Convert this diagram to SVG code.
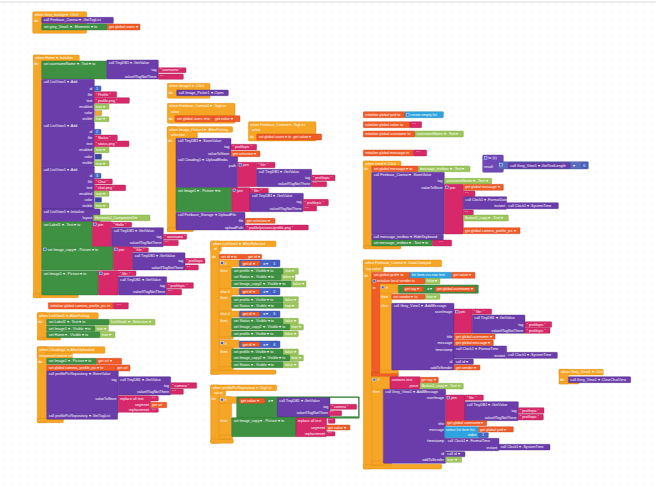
<svg xmlns="http://www.w3.org/2000/svg" width="656" height="487" viewBox="0 0 656 487">
<defs>
<pattern id="dots" width="8" height="8" patternUnits="userSpaceOnUse"><circle cx="4" cy="4" r="0.45" fill="#cfcfcf"/></pattern>
<style>
.e{fill:#F7A525;stroke:#D98A12}
.p{fill:#6A3DAA;stroke:#4E2A86}
.g{fill:#3E9143;stroke:#2C6E30}
.k{fill:#D7286A;stroke:#A81C50}
.r{fill:#F15B28;stroke:#C4441A}
.l{fill:#9DC75E;stroke:#7BA43E}
.b{fill:#2DA4E0;stroke:#1D80B4}
.n{fill:#4666C8;stroke:#32489A}
.v{fill:#7048B6;stroke:#52318C}
.c{fill:#5C6CBD;stroke:#43509A}
.w{fill:#ffffff;stroke:#2C6E30}
.s1{fill:#F7A525;stroke:#888}
.s2{fill:#3949AB;stroke:#888}
.gear{fill:#3B64D8;stroke:#fff}
rect{stroke-width:1.2}
text{font-family:"Liberation Sans",Arial,sans-serif;font-size:11px;fill:#fff}
.m{text-anchor:end}
</style>
</defs>
<rect width="656" height="487" fill="#ffffff"/>
<rect width="656" height="487" fill="url(#dots)"/>
<line x1="0" y1="2" x2="656" y2="2" stroke="#dddddd" stroke-width="1"/>
<g transform="scale(0.333333)">

<g id="grey-backgr-click">
<rect class="e" x="98" y="35" width="162" height="65" rx="3"/>
<text x="104" y="47">when Grey_backgr ▾ .Click</text><text x="103" y="65">do</text>
<rect class="p" x="125" y="52" width="215" height="18" rx="2"/><text x="131" y="64">call Firebase_Contrat ▾ .GetTagList</text>
<rect class="g" x="125" y="72" width="197" height="18" rx="2"/><text x="131" y="84">set grey_View1 ▾ . Elements ▾ to</text>
<rect class="r" x="322" y="72" width="98" height="18" rx="2"/><text x="327" y="84">get global users ▾</text>
</g>

<g id="home-initialize">
<rect class="e" x="100" y="165" width="138" height="18" rx="3"/>
<rect class="e" x="100" y="165" width="25" height="728" rx="3"/>
<rect class="e" x="100" y="880" width="135" height="13" rx="3"/>
<text x="106" y="177">when Home ▾ .Initialize</text><text x="103" y="196">do</text>
<rect class="g" x="125" y="183" width="195" height="54" rx="2"/><text x="131" y="195">set usernameName ▾ . Text ▾ to</text>
<rect class="p" x="320" y="180" width="155" height="57" rx="2"/><text x="326" y="192">call TinyDB1 ▾ .GetValue</text>
<text class="m" x="470" y="214">tag</text><text class="m" x="470" y="233">valueIfTagNotThere</text>
<rect class="k" x="475" y="203" width="83" height="15" rx="2"/><text x="480" y="214">“ username ”</text>
<rect class="k" x="475" y="222" width="75" height="16" rx="2"/><text x="480" y="234">“ ”</text>

<rect class="p" x="125" y="238" width="158" height="130" rx="2"/><text x="131" y="250">call ListView1 ▾ .Add</text>
<text class="m" x="277" y="270">id</text><text class="m" x="277" y="287">file</text><text class="m" x="277" y="305">text</text><text class="m" x="277" y="324">enabled</text><text class="m" x="277" y="343">color</text><text class="m" x="277" y="361">visible</text>
<rect class="n" x="282" y="258" width="21" height="15" rx="2"/><text x="288" y="270">1</text>
<rect class="k" x="282" y="275" width="68" height="17" rx="2"/><text x="287" y="287">“ Profile ”</text>
<rect class="k" x="282" y="293" width="106" height="17" rx="2"/><text x="287" y="305">“ profile.png ”</text>
<rect class="l" x="282" y="312" width="45" height="16" rx="2"/><text x="287" y="324">true ▾</text>
<rect class="s1" x="285" y="332" width="20" height="15"/>
<rect class="l" x="282" y="350" width="45" height="15" rx="2"/><text x="287" y="361">true ▾</text>

<rect class="p" x="125" y="368" width="158" height="132" rx="2"/><text x="131" y="380">call ListView1 ▾ .Add</text>
<text class="m" x="277" y="400">id</text><text class="m" x="277" y="417">file</text><text class="m" x="277" y="435">text</text><text class="m" x="277" y="453">enabled</text><text class="m" x="277" y="473">color</text><text class="m" x="277" y="493">visible</text>
<rect class="n" x="282" y="388" width="21" height="15" rx="2"/><text x="288" y="400">2</text>
<rect class="k" x="282" y="405" width="70" height="17" rx="2"/><text x="287" y="417">“ Status ”</text>
<rect class="k" x="282" y="423" width="105" height="17" rx="2"/><text x="287" y="435">“ status.png ”</text>
<rect class="l" x="282" y="442" width="45" height="16" rx="2"/><text x="287" y="454">true ▾</text>
<rect class="s2" x="285" y="462" width="20" height="16"/>
<rect class="l" x="282" y="482" width="45" height="16" rx="2"/><text x="287" y="494">true ▾</text>

<rect class="p" x="125" y="500" width="158" height="127" rx="2"/><text x="131" y="512">call ListView1 ▾ .Add</text>
<text class="m" x="277" y="532">id</text><text class="m" x="277" y="548">file</text><text class="m" x="277" y="567">text</text><text class="m" x="277" y="585">enabled</text><text class="m" x="277" y="604">color</text><text class="m" x="277" y="621">visible</text>
<rect class="n" x="282" y="520" width="21" height="15" rx="2"/><text x="288" y="532">3</text>
<rect class="k" x="282" y="537" width="55" height="15" rx="2"/><text x="287" y="548">“ Chat ”</text>
<rect class="k" x="282" y="555" width="95" height="17" rx="2"/><text x="287" y="567">“ chat.png ”</text>
<rect class="l" x="282" y="573" width="45" height="16" rx="2"/><text x="287" y="585">true ▾</text>
<rect class="s2" x="285" y="592" width="20" height="15"/>
<rect class="l" x="282" y="609" width="45" height="15" rx="2"/><text x="287" y="621">true ▾</text>

<rect class="p" x="125" y="627" width="175" height="38" rx="2"/><text x="131" y="639">call ListView1 ▾ .Initialize</text>
<text class="m" x="277" y="657">layout</text>
<rect class="l" x="280" y="645" width="170" height="17" rx="2"/><text x="285" y="657">Horizontal_Component3 ▾</text>

<rect class="g" x="125" y="665" width="152" height="75" rx="2"/><text x="131" y="677">set Label1 ▾ . Text ▾ to</text>
<rect class="k" x="277" y="665" width="58" height="75" rx="2"/><rect class="gear" x="281" y="669" width="8" height="8"/><text x="293" y="677">join</text>
<rect class="k" x="335" y="667" width="60" height="14" rx="2"/><text x="340" y="678">“ Hello ”</text>
<rect class="p" x="335" y="683" width="155" height="57" rx="2"/><text x="341" y="695">call TinyDB1 ▾ .GetValue</text>
<text class="m" x="485" y="715">tag</text><text class="m" x="485" y="733">valueIfTagNotThere</text>
<rect class="k" x="490" y="703" width="70" height="15" rx="2"/><text x="494" y="714">“ username ”</text>
<rect class="k" x="490" y="721" width="45" height="16" rx="2"/><text x="495" y="733">“ ”</text>

<rect class="g" x="125" y="740" width="215" height="70" rx="2"/><rect class="gear" x="131" y="744" width="8" height="8"/><text x="143" y="752">set Image_copy ▾ . Picture ▾ to</text>
<rect class="k" x="340" y="740" width="58" height="70" rx="2"/><rect class="gear" x="344" y="744" width="8" height="8"/><text x="356" y="752">join</text>
<rect class="k" x="398" y="743" width="47" height="13" rx="2"/><text x="403" y="753">“ file: ”</text>
<rect class="p" x="398" y="758" width="157" height="52" rx="2"/><text x="404" y="770">call TinyDB1 ▾ .GetValue</text>
<text class="m" x="550" y="787">tag</text><text class="m" x="550" y="806">valueIfTagNotThere</text>
<rect class="k" x="555" y="775" width="60" height="15" rx="2"/><text x="559" y="786">“ profilepic ”</text>
<rect class="k" x="555" y="795" width="40" height="15" rx="2"/><text x="560" y="806">“ ”</text>

<rect class="g" x="125" y="812" width="170" height="73" rx="2"/><text x="131" y="824">set Image1 ▾ . Picture ▾ to</text>
<rect class="k" x="295" y="812" width="60" height="73" rx="2"/><rect class="gear" x="299" y="816" width="8" height="8"/><text x="311" y="824">join</text>
<rect class="k" x="355" y="813" width="53" height="14" rx="2"/><text x="360" y="824">“ file: ”</text>
<rect class="p" x="355" y="830" width="145" height="55" rx="2"/><text x="361" y="842">call TinyDB1 ▾ .GetValue</text>
<text class="m" x="495" y="860">tag</text><text class="m" x="495" y="879">valueIfTagNotThere</text>
<rect class="k" x="500" y="848" width="80" height="17" rx="2"/><text x="505" y="860">“ profilepic ”</text>
<rect class="k" x="500" y="868" width="45" height="17" rx="2"/><text x="505" y="880">“ ”</text>
</g>

<g id="init-camera-profile-pic">
<rect class="r" x="145" y="908" width="195" height="19" rx="2"/><text x="151" y="921">initialize global camera_profile_pic to</text>
<rect class="k" x="340" y="908" width="45" height="19" rx="2"/><text x="352" y="921">“ ”</text>
</g>

<g id="listview-afterpicking">
<rect class="e" x="112" y="938" width="183" height="18" rx="3"/>
<rect class="e" x="112" y="938" width="28" height="82" rx="3"/>
<rect class="e" x="112" y="1012" width="70" height="8" rx="3"/>
<text x="118" y="950">when ListView1 ▾ .AfterPicking</text><text x="115" y="970">do</text>
<rect class="g" x="140" y="958" width="188" height="17" rx="2"/><text x="146" y="970">set Label2 ▾ . Text ▾ to</text>
<rect class="l" x="328" y="958" width="137" height="17" rx="2"/><text x="333" y="970">ListView1 ▾ . Selection ▾</text>
<rect class="g" x="140" y="977" width="145" height="17" rx="2"/><text x="146" y="989">set Image1 ▾ . Visible ▾ to</text>
<rect class="l" x="285" y="977" width="40" height="17" rx="2"/><text x="290" y="989">true ▾</text>
<rect class="g" x="140" y="995" width="160" height="18" rx="2"/><text x="146" y="1007">set Home ▾ . Visible ▾ to</text>
<rect class="l" x="300" y="995" width="45" height="18" rx="2"/><text x="305" y="1007">true ▾</text>
</g>

<g id="clouding-afteruploaded">
<rect class="e" x="112" y="1040" width="203" height="20" rx="3"/>
<rect class="e" x="112" y="1058" width="105" height="17" rx="2"/>
<rect class="e" x="112" y="1040" width="28" height="228" rx="3"/>
<rect class="e" x="112" y="1255" width="78" height="13" rx="3"/>
<text x="118" y="1053">when Clouding1 ▾ .AfterUploaded</text><text x="118" y="1071">responseContent  url</text><text x="115" y="1088">do</text>
<rect class="g" x="140" y="1075" width="150" height="18" rx="2"/><text x="146" y="1087">set Image1 ▾ . Picture ▾ to</text>
<rect class="r" x="290" y="1075" width="75" height="18" rx="2"/><text x="295" y="1087">get url ▾</text>
<rect class="r" x="140" y="1095" width="208" height="18" rx="2"/><text x="146" y="1107">set global camera_profile_pic ▾ to</text>
<rect class="r" x="348" y="1095" width="42" height="18" rx="2"/><text x="352" y="1107">get url</text>
<rect class="p" x="140" y="1113" width="215" height="127" rx="2"/><text x="146" y="1125">call profilePicRepository ▾ .StoreValue</text>
<text class="m" x="350" y="1143">tag</text><text class="m" x="350" y="1200">valueToStore</text>
<rect class="p" x="355" y="1130" width="157" height="55" rx="2"/><text x="361" y="1142">call TinyDB1 ▾ .GetValue</text>
<text class="m" x="507" y="1160">tag</text><text class="m" x="507" y="1179">valueIfTagNotThere</text>
<rect class="k" x="512" y="1148" width="78" height="17" rx="2"/><text x="517" y="1160">“ camera ”</text>
<rect class="k" x="512" y="1167" width="38" height="16" rx="2"/><text x="517" y="1179">“ ”</text>
<rect class="k" x="355" y="1187" width="97" height="50" rx="2"/><text x="360" y="1199">replace all text</text>
<text class="m" x="447" y="1219">segment</text><text class="m" x="447" y="1234">replacement</text>
<rect class="k" x="452" y="1188" width="23" height="15" rx="2"/><text x="456" y="1199">“ ”</text>
<rect class="r" x="452" y="1207" width="48" height="16" rx="2"/><text x="456" y="1219">get url</text>
<rect class="k" x="452" y="1225" width="23" height="12" rx="2"/><text x="456" y="1235">“ ”</text>
<rect class="p" x="140" y="1240" width="213" height="18" rx="2"/><text x="146" y="1252">call profilePicRepository ▾ .GetTagList</text>
</g>

<g id="image1-click">
<rect class="e" x="502" y="250" width="128" height="45" rx="3"/>
<text x="508" y="262">when Image1 ▾ .Click</text><text x="506" y="282">do</text>
<rect class="p" x="530" y="270" width="155" height="17" rx="2"/><text x="536" y="282">call Image_Picker1 ▾ .Open</text>
</g>

<g id="firebase-contrat2-taglist">
<rect class="e" x="502" y="310" width="203" height="60" rx="3"/>
<text x="508" y="322">when Firebase_Contrat2 ▾ .TagList</text><text x="512" y="339">value</text><text x="506" y="360">do</text>
<rect class="r" x="525" y="347" width="115" height="18" rx="2"/><text x="531" y="359">set global users ▾ to</text>
<rect class="r" x="640" y="347" width="80" height="18" rx="2"/><text x="645" y="359">get value ▾</text>
</g>

<g id="firebase-contrat-taglist">
<rect class="e" x="745" y="365" width="203" height="58" rx="3"/>
<text x="751" y="377">when Firebase_Contrat ▾ .TagList</text><text x="755" y="393">value</text><text x="749" y="415">do</text>
<rect class="r" x="770" y="402" width="105" height="18" rx="2"/><text x="776" y="414">set global users ▾ to</text>
<rect class="r" x="875" y="402" width="90" height="18" rx="2"/><text x="880" y="414">get value ▾</text>
</g>

<g id="image-picker-afterpicking">
<rect class="e" x="502" y="380" width="196" height="17" rx="3"/>
<rect class="e" x="502" y="396" width="90" height="18" rx="2"/>
<rect class="e" x="502" y="380" width="26" height="315" rx="3"/>
<rect class="e" x="502" y="683" width="78" height="12" rx="3"/>
<text x="508" y="392">when Image_Picker1 ▾ .AfterPicking</text><text x="512" y="409">selection</text><text x="505" y="427">do</text>
<rect class="p" x="528" y="415" width="165" height="55" rx="2"/><text x="534" y="427">call TinyDB1 ▾ .StoreValue</text>
<text class="m" x="688" y="445">tag</text><text class="m" x="688" y="465">valueToStore</text>
<rect class="k" x="693" y="433" width="77" height="17" rx="2"/><text x="698" y="445">“ profilepic ”</text>
<rect class="r" x="693" y="453" width="87" height="17" rx="2"/><text x="698" y="465">get selection ▾</text>
<rect class="p" x="528" y="470" width="185" height="93" rx="2"/><text x="534" y="482">call Clouding1 ▾ .UploadMedia</text>
<text class="m" x="708" y="500">path</text>
<rect class="k" x="713" y="487" width="57" height="73" rx="2"/><rect class="gear" x="717" y="491" width="8" height="8"/><text x="729" y="499">join</text>
<rect class="k" x="770" y="487" width="55" height="16" rx="2"/><text x="775" y="499">“ file: ”</text>
<rect class="p" x="770" y="508" width="165" height="52" rx="2"/><text x="776" y="520">call TinyDB1 ▾ .GetValue</text>
<text class="m" x="930" y="537">tag</text><text class="m" x="930" y="556">valueIfTagNotThere</text>
<rect class="k" x="935" y="525" width="70" height="17" rx="2"/><text x="939" y="537">“ profilepic ”</text>
<rect class="k" x="935" y="545" width="45" height="15" rx="2"/><text x="940" y="556">“ ”</text>
<rect class="g" x="528" y="563" width="167" height="72" rx="2"/><text x="534" y="575">set Image1 ▾ . Picture ▾ to</text>
<rect class="k" x="695" y="563" width="55" height="72" rx="2"/><rect class="gear" x="699" y="567" width="8" height="8"/><text x="711" y="575">join</text>
<rect class="k" x="750" y="565" width="55" height="15" rx="2"/><text x="755" y="576">“ file: ”</text>
<rect class="p" x="750" y="580" width="160" height="55" rx="2"/><text x="756" y="592">call TinyDB1 ▾ .GetValue</text>
<text class="m" x="905" y="610">tag</text><text class="m" x="905" y="629">valueIfTagNotThere</text>
<rect class="k" x="910" y="598" width="75" height="19" rx="2"/><text x="914" y="611">“ profilepic ”</text>
<rect class="k" x="910" y="618" width="40" height="15" rx="2"/><text x="915" y="629">“ ”</text>
<rect class="p" x="528" y="637" width="207" height="53" rx="2"/><text x="534" y="649">call Firebase_Storage ▾ .UploadFile</text>
<text class="m" x="730" y="667">file</text><text class="m" x="730" y="687">uploadPath</text>
<rect class="r" x="735" y="655" width="90" height="15" rx="2"/><text x="740" y="666">get selection ▾</text>
<rect class="k" x="735" y="675" width="190" height="15" rx="2"/><text x="740" y="686">“ profile/pictures/profile.png ”</text>
</g>

<g id="listview-afterselected">
<rect class="e" x="632" y="723" width="196" height="17" rx="3"/>
<rect class="e" x="632" y="739" width="32" height="15" rx="2"/>
<rect class="e" x="632" y="723" width="26" height="400" rx="3"/>
<rect class="e" x="632" y="1110" width="196" height="13" rx="3"/>
<text x="638" y="735">when ListView1 ▾ .AfterSelected</text><text x="642" y="751">id</text><text x="635" y="773">do</text>
<rect class="r" x="658" y="763" width="82" height="14" rx="2"/><text x="663" y="774">set id ▾ to</text>
<rect class="r" x="740" y="763" width="45" height="14" rx="2"/><text x="744" y="774">get id ▾</text>

<rect class="e" x="658" y="780" width="37" height="237" rx="2"/>
<rect class="e" x="658" y="780" width="60" height="20" rx="2"/>
<rect class="e" x="658" y="865" width="60" height="20" rx="2"/>
<rect class="e" x="658" y="933" width="60" height="19" rx="2"/>
<rect class="e" x="658" y="1009" width="42" height="8" rx="2"/>
<rect class="gear" x="662" y="785" width="8" height="8"/><text x="674" y="794">if</text>
<text x="661" y="815">then</text><text x="661" y="879">else if</text><text x="661" y="898">then</text><text x="661" y="946">else if</text><text x="661" y="966">then</text>
<rect class="n" x="718" y="780" width="122" height="20" rx="2"/><rect class="r" x="724" y="783" width="55" height="14" rx="2"/><text x="728" y="794">get id ▾</text><text x="790" y="794">= ▾</text><rect class="n" x="815" y="783" width="18" height="14" rx="2"/><text x="820" y="794">1</text>
<rect class="n" x="718" y="865" width="122" height="20" rx="2"/><rect class="r" x="724" y="868" width="55" height="14" rx="2"/><text x="728" y="879">get id ▾</text><text x="790" y="879">= ▾</text><rect class="n" x="815" y="868" width="18" height="14" rx="2"/><text x="820" y="879">2</text>
<rect class="n" x="718" y="933" width="122" height="19" rx="2"/><rect class="r" x="724" y="936" width="55" height="13" rx="2"/><text x="728" y="946">get id ▾</text><text x="790" y="946">= ▾</text><rect class="n" x="815" y="936" width="18" height="13" rx="2"/><text x="820" y="946">3</text>
<rect class="g" x="695" y="805" width="155" height="18" rx="2"/><text x="701" y="817">set profile ▾ . Visible ▾ to</text><rect class="l" x="850" y="805" width="45" height="18" rx="2"/><text x="855" y="817">true ▾</text>
<rect class="g" x="695" y="823" width="150" height="18" rx="2"/><text x="701" y="835">set Status ▾ . Visible ▾ to</text><rect class="l" x="845" y="823" width="40" height="18" rx="2"/><text x="849" y="835">false ▾</text>
<rect class="g" x="695" y="843" width="180" height="18" rx="2"/><text x="701" y="855">set Image_copy2 ▾ . Visible ▾ to</text><rect class="l" x="875" y="843" width="43" height="18" rx="2"/><text x="879" y="855">false ▾</text>
<rect class="g" x="695" y="890" width="155" height="17" rx="2"/><text x="701" y="902">set profile ▾ . Visible ▾ to</text><rect class="l" x="850" y="890" width="45" height="17" rx="2"/><text x="855" y="902">false ▾</text>
<rect class="g" x="695" y="908" width="155" height="17" rx="2"/><text x="701" y="920">set Status ▾ . Visible ▾ to</text><rect class="l" x="850" y="908" width="45" height="17" rx="2"/><text x="855" y="920">true ▾</text>
<rect class="g" x="695" y="955" width="155" height="18" rx="2"/><text x="701" y="967">set Status ▾ . Visible ▾ to</text><rect class="l" x="850" y="955" width="45" height="18" rx="2"/><text x="855" y="967">false ▾</text>
<rect class="g" x="695" y="973" width="175" height="17" rx="2"/><text x="701" y="985">set Image_copy2 ▾ . Visible ▾ to</text><rect class="l" x="870" y="973" width="40" height="17" rx="2"/><text x="874" y="985">true ▾</text>
<rect class="g" x="695" y="993" width="155" height="17" rx="2"/><text x="701" y="1005">set profile ▾ . Visible ▾ to</text><rect class="l" x="850" y="993" width="45" height="17" rx="2"/><text x="855" y="1005">false ▾</text>

<rect class="e" x="658" y="1020" width="42" height="85" rx="2"/>
<rect class="e" x="658" y="1020" width="60" height="23" rx="2"/>
<rect class="e" x="658" y="1100" width="42" height="10" rx="2"/>
<rect class="gear" x="662" y="1025" width="8" height="8"/><text x="674" y="1034">if</text><text x="661" y="1058">then</text>
<rect class="n" x="718" y="1023" width="122" height="20" rx="2"/><rect class="r" x="724" y="1026" width="55" height="14" rx="2"/><text x="728" y="1037">get id ▾</text><text x="790" y="1037">= ▾</text><rect class="n" x="815" y="1026" width="18" height="14" rx="2"/><text x="820" y="1037">4</text>
<rect class="g" x="695" y="1047" width="155" height="18" rx="2"/><text x="701" y="1059">set profile ▾ . Visible ▾ to</text><rect class="l" x="850" y="1047" width="45" height="18" rx="2"/><text x="855" y="1059">false ▾</text>
<rect class="g" x="695" y="1065" width="175" height="18" rx="2"/><text x="701" y="1077">set Image_copy2 ▾ . Visible ▾ to</text><rect class="l" x="870" y="1065" width="40" height="18" rx="2"/><text x="874" y="1077">true ▾</text>
<rect class="g" x="695" y="1085" width="155" height="18" rx="2"/><text x="701" y="1097">set Status ▾ . Visible ▾ to</text><rect class="l" x="850" y="1085" width="45" height="18" rx="2"/><text x="855" y="1097">false ▾</text>
</g>

<g id="profilepic-taglist">
<rect class="e" x="632" y="1155" width="198" height="17" rx="3"/>
<rect class="e" x="632" y="1171" width="45" height="16" rx="2"/>
<rect class="e" x="632" y="1155" width="26" height="175" rx="3"/>
<rect class="e" x="632" y="1317" width="68" height="13" rx="3"/>
<text x="638" y="1167">when profilePicRepository ▾ .TagList</text><text x="642" y="1183">value</text><text x="635" y="1201">do</text>
<rect class="e" x="658" y="1190" width="37" height="127" rx="2"/>
<rect class="e" x="658" y="1190" width="52" height="20" rx="2"/>
<rect class="e" x="658" y="1305" width="40" height="12" rx="2"/>
<rect class="gear" x="662" y="1195" width="8" height="8"/><text x="674" y="1204">if</text><text x="661" y="1265">then</text>
<rect class="g" x="710" y="1190" width="368" height="65" rx="2"/>
<rect class="r" x="718" y="1195" width="77" height="15" rx="2"/><text x="723" y="1206">get value ▾</text><text x="805" y="1206">= ▾</text>
<rect class="p" x="832" y="1193" width="158" height="57" rx="2"/><text x="838" y="1205">call TinyDB1 ▾ .GetValue</text>
<text class="m" x="985" y="1224">tag</text><text class="m" x="985" y="1243">valueIfTagNotThere</text>
<rect class="w" x="990" y="1193" width="85" height="57"/>
<rect class="k" x="990" y="1213" width="80" height="15" rx="2"/><text x="995" y="1224">“ camera ”</text>
<rect class="k" x="985" y="1232" width="40" height="15" rx="2"/><text x="990" y="1243">“ ”</text>
<rect class="g" x="695" y="1253" width="193" height="57" rx="2"/><text x="701" y="1265">set Image_copy ▾ . Picture ▾ to</text>
<rect class="k" x="888" y="1253" width="92" height="57" rx="2"/><text x="893" y="1265">replace all text</text>
<text class="m" x="975" y="1287">segment</text><text class="m" x="975" y="1305">replacement</text>
<rect class="k" x="985" y="1255" width="20" height="15" rx="2"/><text x="988" y="1266">“ ”</text>
<rect class="r" x="980" y="1275" width="70" height="15" rx="2"/><text x="984" y="1286">get value ▾</text>
<rect class="k" x="980" y="1295" width="25" height="13" rx="2"/><text x="984" y="1305">“ ”</text>
</g>

<g id="globals">
<rect class="r" x="1090" y="335" width="125" height="18" rx="2"/><text x="1096" y="347">initialize global grid to</text>
<rect class="b" x="1215" y="335" width="115" height="18" rx="2"/><rect class="gear" x="1219" y="340" width="8" height="8"/><text x="1231" y="347">create empty list</text>
<rect class="r" x="1090" y="365" width="140" height="18" rx="2"/><text x="1096" y="377">initialize global value to</text>
<rect class="k" x="1230" y="365" width="35" height="18" rx="2"/><text x="1237" y="377">“ ”</text>
<rect class="r" x="1090" y="393" width="155" height="18" rx="2"/><text x="1096" y="405">initialize global username to</text>
<rect class="l" x="1245" y="393" width="145" height="18" rx="2"/><text x="1250" y="405">usernameName ▾ . Text ▾</text>
<rect class="r" x="1090" y="450" width="150" height="18" rx="2"/><text x="1096" y="462">initialize global message to</text>
<rect class="k" x="1240" y="450" width="40" height="18" rx="2"/><text x="1249" y="462">“ ”</text>
</g>

<g id="send-click">
<rect class="e" x="1090" y="483" width="113" height="17" rx="3"/>
<rect class="e" x="1090" y="483" width="25" height="262" rx="3"/>
<rect class="e" x="1090" y="737" width="113" height="10" rx="3"/>
<text x="1096" y="495">when send ▾ .Click</text><text x="1093" y="511">do</text>
<rect class="r" x="1115" y="498" width="140" height="17" rx="2"/><text x="1121" y="510">set global message ▾ to</text>
<rect class="l" x="1255" y="498" width="155" height="17" rx="2"/><text x="1260" y="510">message_textbox ▾ . Text ▾</text>
<rect class="p" x="1115" y="517" width="218" height="185" rx="2"/><text x="1121" y="529">call Firebase_Contrat ▾ .StoreValue</text>
<text class="m" x="1328" y="547">tag</text><text class="m" x="1328" y="566">valueToStore</text>
<rect class="l" x="1333" y="535" width="142" height="17" rx="2"/><text x="1338" y="547">usernameName ▾ . Text ▾</text>
<rect class="k" x="1333" y="553" width="57" height="149" rx="2"/><rect class="gear" x="1337" y="558" width="8" height="8"/><text x="1349" y="566">join</text>
<rect class="r" x="1390" y="553" width="120" height="18" rx="2"/><text x="1395" y="565">get global message ▾</text>
<rect class="k" x="1390" y="573" width="35" height="17" rx="2"/><text x="1396" y="585">“ ”</text>
<rect class="p" x="1390" y="590" width="130" height="38" rx="2"/><text x="1396" y="602">call Clock1 ▾ .FormatDate</text><text class="m" x="1515" y="621">instant</text>
<rect class="p" x="1520" y="608" width="155" height="18" rx="2"/><text x="1525" y="620">call Clock1 ▾ .SystemTime</text>
<rect class="k" x="1390" y="630" width="30" height="15" rx="2"/><text x="1394" y="641">“ ”</text>
<rect class="l" x="1390" y="645" width="135" height="18" rx="2"/><text x="1395" y="657">Button2_copy ▾ . Text ▾</text>
<rect class="r" x="1390" y="683" width="170" height="18" rx="2"/><text x="1395" y="695">get global camera_profile_pic ▾</text>
<rect class="p" x="1115" y="703" width="215" height="17" rx="2"/><text x="1121" y="715">call message_textbox ▾ .HideKeyboard</text>
<rect class="g" x="1115" y="720" width="182" height="18" rx="2"/><text x="1121" y="732">set message_textbox ▾ . Text ▾ to</text>
<rect class="k" x="1297" y="720" width="58" height="18" rx="2"/><text x="1318" y="732">“ ”</text>
</g>

<g id="procedure-result">
<rect class="v" x="1448" y="465" width="62" height="52" rx="3"/>
<rect class="gear" x="1453" y="470" width="8" height="8"/><text x="1465" y="478">to (x)</text><text x="1452" y="505">result</text>
<rect class="c" x="1495" y="485" width="270" height="22" rx="2"/><rect class="gear" x="1499" y="490" width="8" height="8"/>
<rect class="p" x="1525" y="488" width="185" height="17" rx="2"/><text x="1531" y="500">call Grey_View1 ▾ .GetTextLength</text>
<text x="1720" y="500">▾</text>
<rect class="n" x="1745" y="488" width="17" height="15" rx="2"/><text x="1750" y="500">0</text>
</g>

<g id="datachanged">
<rect class="e" x="1090" y="780" width="235" height="20" rx="3"/>
<rect class="e" x="1090" y="799" width="60" height="16" rx="2"/>
<rect class="e" x="1090" y="780" width="25" height="627" rx="3"/>
<rect class="e" x="1090" y="1393" width="235" height="14" rx="3"/>
<text x="1096" y="793">when Firebase_Contrat ▾ .DataChanged</text><text x="1098" y="811">tag  value</text><text x="1093" y="830">do</text>
<rect class="r" x="1115" y="817" width="115" height="18" rx="2"/><text x="1121" y="829">set global grid ▾ to</text>
<rect class="b" x="1230" y="817" width="125" height="18" rx="2"/><text x="1235" y="829">list from csv row text</text>
<rect class="r" x="1355" y="817" width="70" height="18" rx="2"/><text x="1360" y="829">get value ▾</text>

<rect class="r" x="1115" y="835" width="160" height="17" rx="2"/>
<rect class="r" x="1115" y="835" width="25" height="295" rx="2"/>
<rect class="r" x="1115" y="1117" width="80" height="13" rx="2"/>
<rect class="gear" x="1119" y="839" width="8" height="8"/><text x="1131" y="847">initialize local sender to</text><text x="1118" y="866">in</text>
<rect class="l" x="1275" y="835" width="45" height="17" rx="2"/><text x="1280" y="847">false ▾</text>
<rect class="e" x="1140" y="852" width="35" height="268" rx="2"/>
<rect class="e" x="1140" y="852" width="55" height="28" rx="2"/>
<rect class="e" x="1140" y="1110" width="55" height="10" rx="2"/>
<rect class="gear" x="1144" y="858" width="8" height="8"/><text x="1158" y="867">if</text><text x="1143" y="894">then</text><text x="1143" y="920">else</text>
<rect class="g" x="1195" y="855" width="240" height="25" rx="2"/>
<rect class="r" x="1210" y="860" width="60" height="15" rx="2"/><text x="1214" y="871">get tag ▾</text><text x="1282" y="871">= ▾</text>
<rect class="r" x="1305" y="860" width="120" height="15" rx="2"/><text x="1310" y="871">get global username ▾</text>
<rect class="r" x="1175" y="883" width="100" height="15" rx="2"/><text x="1180" y="894">set sender ▾ to</text>
<rect class="l" x="1275" y="883" width="45" height="15" rx="2"/><text x="1280" y="894">true ▾</text>
<rect class="p" x="1175" y="910" width="187" height="200" rx="2"/><text x="1181" y="922">call Grey_View1 ▾ .AddMessage</text>
<text class="m" x="1357" y="939">userImage</text><text class="m" x="1357" y="1014">title</text><text class="m" x="1357" y="1032">message</text><text class="m" x="1357" y="1052">timestamp</text><text class="m" x="1357" y="1089">id</text><text class="m" x="1357" y="1106">addToSender</text>
<rect class="k" x="1362" y="927" width="55" height="73" rx="2"/><rect class="gear" x="1366" y="931" width="8" height="8"/><text x="1378" y="939">join</text>
<rect class="k" x="1417" y="927" width="58" height="16" rx="2"/><text x="1422" y="939">“ file: ”</text>
<rect class="p" x="1417" y="945" width="158" height="55" rx="2"/><text x="1423" y="957">call TinyDB1 ▾ .GetValue</text>
<text class="m" x="1570" y="977">tag</text><text class="m" x="1570" y="995">valueIfTagNotThere</text>
<rect class="k" x="1575" y="965" width="80" height="17" rx="2"/><text x="1580" y="977">“ profilepic ”</text>
<rect class="k" x="1575" y="983" width="75" height="17" rx="2"/><text x="1580" y="995">“ profilepic ”</text>
<rect class="r" x="1362" y="1002" width="123" height="16" rx="2"/><text x="1367" y="1014">get global username ▾</text>
<rect class="r" x="1362" y="1020" width="118" height="17" rx="2"/><text x="1367" y="1032">get global message ▾</text>
<rect class="p" x="1362" y="1038" width="158" height="37" rx="2"/><text x="1368" y="1050">call Clock1 ▾ .FormatTime</text><text class="m" x="1515" y="1070">instant</text>
<rect class="p" x="1520" y="1057" width="152" height="18" rx="2"/><text x="1525" y="1069">call Clock1 ▾ .SystemTime</text>
<rect class="p" x="1362" y="1077" width="58" height="16" rx="2"/><text x="1367" y="1089">call id ▾</text>
<rect class="r" x="1362" y="1095" width="78" height="15" rx="2"/><text x="1367" y="1106">get sender ▾</text>

<rect class="e" x="1115" y="1130" width="35" height="265" rx="2"/>
<rect class="e" x="1115" y="1130" width="55" height="37" rx="2"/>
<rect class="e" x="1115" y="1383" width="60" height="12" rx="2"/>
<rect class="gear" x="1119" y="1135" width="8" height="8"/><text x="1133" y="1143">if</text><text x="1118" y="1180">then</text>
<rect class="k" x="1170" y="1130" width="90" height="37" rx="2"/><text x="1175" y="1143">contains text</text><text class="m" x="1255" y="1162">piece</text>
<rect class="r" x="1260" y="1132" width="55" height="16" rx="2"/><text x="1264" y="1144">get tag ▾</text>
<rect class="l" x="1260" y="1150" width="130" height="17" rx="2"/><text x="1265" y="1162">Button2_copy ▾ . Text ▾</text>
<rect class="p" x="1150" y="1168" width="187" height="222" rx="2"/><text x="1156" y="1180">call Grey_View1 ▾ .AddMessage</text>
<text class="m" x="1332" y="1197">userImage</text><text class="m" x="1332" y="1274">title</text><text class="m" x="1332" y="1292">message</text><text class="m" x="1332" y="1327">timestamp</text><text class="m" x="1332" y="1366">id</text><text class="m" x="1332" y="1383">addToSender</text>
<rect class="k" x="1337" y="1185" width="58" height="80" rx="2"/><rect class="gear" x="1341" y="1189" width="8" height="8"/><text x="1353" y="1197">join</text>
<rect class="k" x="1395" y="1185" width="55" height="16" rx="2"/><text x="1400" y="1197">“ file: ”</text>
<rect class="p" x="1395" y="1205" width="160" height="57" rx="2"/><text x="1401" y="1217">call TinyDB1 ▾ .GetValue</text>
<text class="m" x="1550" y="1236">tag</text><text class="m" x="1550" y="1256">valueIfTagNotThere</text>
<rect class="k" x="1555" y="1223" width="77" height="17" rx="2"/><text x="1560" y="1235">“ profilepic ”</text>
<rect class="k" x="1555" y="1243" width="75" height="17" rx="2"/><text x="1560" y="1255">“ profilepic ”</text>
<rect class="r" x="1337" y="1262" width="123" height="15" rx="2"/><text x="1342" y="1273">get global username ▾</text>
<rect class="b" x="1333" y="1280" width="102" height="33" rx="2"/><text x="1338" y="1292">select list item list</text><text class="m" x="1430" y="1309">index</text>
<rect class="r" x="1435" y="1280" width="105" height="16" rx="2"/><text x="1440" y="1292">get global grid ▾</text>
<rect class="n" x="1435" y="1298" width="30" height="15" rx="2"/><text x="1446" y="1309">1</text>
<rect class="p" x="1337" y="1315" width="160" height="37" rx="2"/><text x="1343" y="1327">call Clock1 ▾ .FormatTime</text><text class="m" x="1492" y="1347">instant</text>
<rect class="p" x="1497" y="1333" width="153" height="17" rx="2"/><text x="1502" y="1345">call Clock1 ▾ .SystemTime</text>
<rect class="p" x="1337" y="1355" width="58" height="15" rx="2"/><text x="1342" y="1366">call id ▾</text>
<rect class="l" x="1337" y="1371" width="48" height="16" rx="2"/><text x="1342" y="1383">true ▾</text>
</g>

<g id="grey-view-click">
<rect class="e" x="1677" y="1108" width="133" height="17" rx="3"/>
<rect class="e" x="1677" y="1108" width="28" height="44" rx="3"/>
<rect class="e" x="1677" y="1145" width="60" height="7" rx="3"/>
<text x="1683" y="1120">when Grey_View1 ▾ .Click</text><text x="1680" y="1142">do</text>
<rect class="p" x="1705" y="1130" width="187" height="18" rx="2"/><text x="1711" y="1142">call Grey_View1 ▾ .ClearChatView</text>
</g>

</g>
</svg>
